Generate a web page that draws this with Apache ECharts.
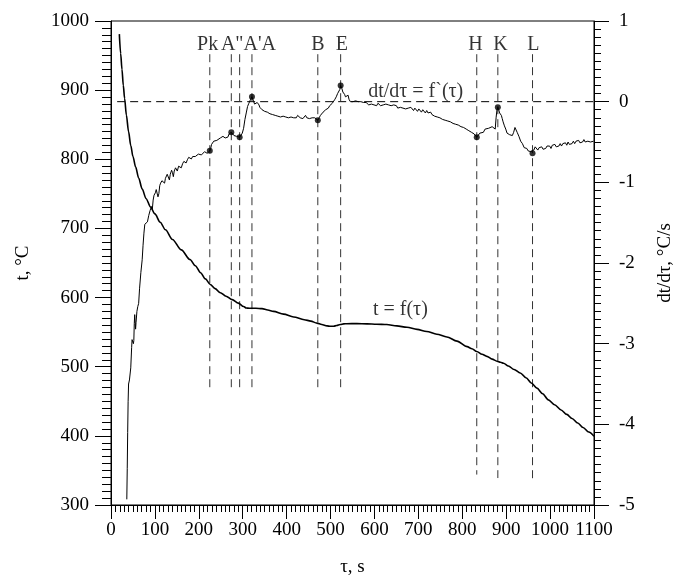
<!DOCTYPE html>
<html>
<head>
<meta charset="utf-8">
<script src="https://cdn.jsdelivr.net/npm/echarts@6/dist/echarts.min.js"></script>
<style>html,body{margin:0;padding:0;background:#fff}#c{width:673px;height:579px}</style>
</head>
<body>
<div id="c"></div>
<script>
// Temperature curve t = f(tau)  [tau s, t °C]
const tempCurve = [[19,981],[22,953],[25,930],[28,907],[31,888],[35,864],[40,840],[45,820],[50,804],[56,789],[63,773],[71,757],[80,743],[90,731],[100,721],[112,709],[124,698],[140,684],[160,669],[180,655],[192,646],[204,636],[215,627],[226,619],[237,613],[249,607],[262,602],[276,597],[290,592],[302,587],[308,585],[315,584.5],[330,584.5],[344,584],[357,582],[370,580],[393,576],[416,572],[440,568],[455,566],[469,563],[480,561],[492,559],[500,558.5],[507,558.6],[514,559.5],[522,561],[530,562],[537,562.2],[560,562.3],[583,562],[605,561.5],[628,561],[651,559],[674,557],[697,554],[719,551],[742,547],[765,543],[788,537],[811,529],[822,526],[833,522],[845,518],[856,515],[868,511],[879,508],[887,506.5],[894,505],[905,501],[918,496],[932,491],[945,484],[958,476],[970,469],[983,461],[996,452],[1010,445],[1025,437.5],[1038,431],[1050,425],[1063,418.5],[1075,412],[1088,405.5],[1100,399.5]];

// Derivative curve dt/dtau = f'(tau)  [tau s, °C/s]
const rateCurve = [[36,-4.93],[37,-4.55],[38,-4.1],[39,-3.72],[40,-3.5],[42,-3.45],[44,-3.45],[45,-3.3],[47,-3.05],[48,-2.95],[50,-2.93],[51,-3.0],[52,-2.96],[53,-2.75],[54,-2.64],[55,-2.66],[56,-2.82],[57,-2.74],[59,-2.6],[61,-2.54],[63,-2.5],[65,-2.32],[68,-2.12],[71,-1.96],[73,-1.78],[75,-1.63],[77,-1.52],[79,-1.5],[81,-1.54],[83,-1.49],[86,-1.41],[89,-1.35],[92,-1.3],[94,-1.34],[96,-1.22],[98,-1.16],[101,-1.13],[103,-1.09],[105,-1.07],[107,-1.18],[109,-1.14],[111,-1.04],[113,-1.01],[116,-0.98],[118,-0.96],[120,-0.99],[122,-1.01],[124,-0.95],[126,-0.93],[128,-0.9],[130,-0.91],[133,-0.97],[135,-0.9],[138,-0.85],[140,-0.88],[142,-0.93],[144,-0.86],[147,-0.82],[149,-0.84],[151,-0.86],[154,-0.8],[156,-0.78],[158,-0.8],[160,-0.82],[163,-0.77],[166,-0.74],[168,-0.75],[171,-0.76],[174,-0.72],[177,-0.69],[180,-0.7],[183,-0.71],[186,-0.68],[189,-0.66],[192,-0.68],[196,-0.68],[199,-0.65],[202,-0.64],[206,-0.66],[210,-0.65],[213,-0.62],[216,-0.62],[219,-0.64],[222,-0.62],[225,-0.61],
[227,-0.58],[229,-0.53],[231,-0.54],[234,-0.49],[238,-0.47],[241,-0.48],[245,-0.46],[249,-0.45],[252,-0.46],[255,-0.43],[257,-0.42],[260,-0.45],[263,-0.43],[266,-0.44],[269,-0.4],[272,-0.41],[274,-0.38],[277,-0.39],[280,-0.42],[283,-0.41],[286,-0.43],[290,-0.42],[293,-0.44],[296,-0.42],[299,-0.39],[302,-0.33],[305,-0.22],[308,-0.14],[311,-0.06],[314,-0.02],[316,-0.01],[318,0.03],[321,0.06],[323,0.03],[325,0.0],[327,-0.03],[329,-0.05],[331,-0.03],[333,-0.01],[335,0.0],[337,-0.04],[339,-0.07],[341,-0.08],[344,-0.1],[347,-0.09],[350,-0.12],[353,-0.14],[356,-0.13],[359,-0.12],[362,-0.15],[365,-0.13],[368,-0.16],[371,-0.15],[374,-0.17],[377,-0.16],[380,-0.18],[383,-0.16],[386,-0.19],[389,-0.17],[392,-0.18],[395,-0.16],[398,-0.19],[401,-0.17],[404,-0.2],[407,-0.18],[410,-0.19],[413,-0.17],[416,-0.2],[419,-0.18],[422,-0.2],[425,-0.17],[428,-0.19],[431,-0.2],[434,-0.18],[437,-0.21],[440,-0.19],[443,-0.17],[446,-0.2],[449,-0.18],[452,-0.21],[455,-0.19],[458,-0.2],[461,-0.22],[464,-0.2],[467,-0.22],[471,-0.23],
[474,-0.2],[477,-0.17],[480,-0.15],[483,-0.13],[486,-0.14],[489,-0.1],[492,-0.09],[495,-0.08],[498,-0.05],[501,-0.06],[504,-0.02],[507,0.0],[510,0.03],[513,0.06],[516,0.1],[519,0.12],[521,0.15],[523,0.2],[526,0.16],[528,0.12],[530,0.13],[532,0.09],[534,0.06],[536,0.07],[538,0.05],[540,0.08],[542,0.03],[545,0.0],[548,0.02],[551,0.0],[554,-0.01],[557,0.01],[560,-0.01],[563,0.0],[566,-0.02],[569,0.0],[572,-0.02],[575,-0.01],[578,-0.03],[581,-0.01],[584,-0.02],[587,-0.04],[590,-0.02],[593,-0.03],[596,-0.02],[599,-0.04],[602,-0.03],[605,-0.05],[608,-0.02],[611,-0.03],[614,-0.05],[617,-0.03],[620,-0.04],[623,-0.06],[626,-0.03],[629,-0.05],[632,-0.04],[635,-0.06],[638,-0.05],[641,-0.07],[644,-0.04],[647,-0.06],[650,-0.05],[653,-0.08],[656,-0.06],[659,-0.07],[662,-0.05],[665,-0.08],[668,-0.06],[671,-0.09],[674,-0.07],[677,-0.08],[680,-0.1],[683,-0.07],[686,-0.09],[689,-0.11],[692,-0.08],[695,-0.1],[698,-0.12],[701,-0.09],[704,-0.11],[707,-0.13],[710,-0.1],[713,-0.12],[716,-0.14],[719,-0.11],[722,-0.14],[725,-0.15],[728,-0.13],[731,-0.16],[734,-0.15],[737,-0.18],[740,-0.16],[743,-0.19],[746,-0.17],[749,-0.2],[752,-0.19],[755,-0.22],[758,-0.2],[761,-0.23],[764,-0.21],[767,-0.24],[770,-0.23],[773,-0.25],[776,-0.24],[779,-0.27],[782,-0.25],[785,-0.28],[788,-0.26],[791,-0.29],[794,-0.28],[797,-0.31],[800,-0.29],[803,-0.32],[806,-0.31],[809,-0.34],[812,-0.32],[815,-0.36],[818,-0.34],[821,-0.38],[824,-0.37],[827,-0.4],[830,-0.41],[833,-0.44],
[836,-0.42],[840,-0.39],[844,-0.37],[848,-0.38],[852,-0.34],[856,-0.35],[860,-0.33],[864,-0.34],[868,-0.31],[872,-0.33],[875,-0.34],[877,-0.2],[879,-0.1],[881,-0.07],[883,-0.1],[885,-0.14],[887,-0.14],[889,-0.17],[891,-0.21],[893,-0.25],[896,-0.3],[899,-0.34],[902,-0.39],[905,-0.4],[908,-0.41],[911,-0.41],[914,-0.42],[917,-0.38],[920,-0.32],[922,-0.33],[925,-0.38],[929,-0.43],[933,-0.49],[937,-0.52],[941,-0.57],[944,-0.59],[947,-0.58],[950,-0.61],[953,-0.59],[956,-0.62],[958,-0.61],[960,-0.64],[963,-0.6],[966,-0.56],[969,-0.58],[972,-0.6],[975,-0.57],[978,-0.59],[981,-0.56],[984,-0.59],[987,-0.57],[990,-0.58],[993,-0.55],[996,-0.57],[999,-0.55],[1002,-0.58],[1005,-0.54],[1008,-0.56],[1011,-0.53],[1014,-0.56],[1017,-0.54],[1020,-0.55],[1023,-0.52],[1026,-0.55],[1029,-0.52],[1032,-0.54],[1035,-0.51],[1038,-0.54],[1041,-0.5],[1044,-0.53],[1047,-0.51],[1050,-0.52],[1053,-0.49],[1056,-0.52],[1059,-0.49],[1062,-0.51],[1065,-0.48],[1068,-0.51],[1071,-0.49],[1074,-0.5],[1077,-0.47],[1080,-0.5],[1083,-0.48],[1086,-0.49],[1089,-0.47],[1092,-0.5],[1095,-0.48],[1099,-0.49]];

// Characteristic points
const eventNames = ['Pk','A"',"A'",'A','B','E','H','K','L'];
const eventTau = [225,274,293,321,471,523,833,881,960];
const eventRate = [-0.61,-0.38,-0.44,0.06,-0.23,0.20,-0.44,-0.07,-0.64];
const eventLineTop = [952,952,952,952,952,952,952,952,952];
const eventLineBottom = [470,470,470,470,470,470,344,339,333];

// Point labels above the dashed lines
const labelTexts = ['Pk','A"A\'A','B','E','H','K','L'];
const labelTau = [220,313,471,526,830,887,962];
const labelTemp = [965,965,965,965,965,965,965];

// Zero line of the derivative
const zeroLine = [[14,0],[1100,0]];

// Curve captions
const captionTexts = ['dt/dτ = f`(τ)','t = f(τ)'];
const captionTau = [694,659];
const captionVal = [0.124,582];
const captionAxis = [1,0];

// Axis ticks (major and minor steps)
const xTicks = {min:0,max:1100,interval:100,minor:10};
const tTicks = {min:300,max:1000,interval:100,minor:10};
const rTicks = {min:-5,max:1,interval:1,minor:0.1};

const FONT = 'Liberation Serif';
const txt = {fontFamily:FONT,fontSize:19,color:'#000'};
const plain = v => String(v);

const series = [];
series.push({type:'line',yAxisIndex:1,data:zeroLine,symbol:'none',silent:true,
  lineStyle:{color:'#000',width:1,type:[8,5]}});
eventTau.forEach((t,i)=>{
  series.push({type:'line',yAxisIndex:0,data:[[t,eventLineTop[i]],[t,eventLineBottom[i]]],symbol:'none',silent:true,
    lineStyle:{color:'#333',width:1,type:[8,5]}});
});
series.push({type:'line',yAxisIndex:0,data:tempCurve,symbol:'none',smooth:0.3,smoothMonotone:'x',
  lineStyle:{color:'#000',width:1.6}});
series.push({type:'line',yAxisIndex:1,data:rateCurve,symbol:'none',
  lineStyle:{color:'#000',width:1}});
series.push({type:'scatter',yAxisIndex:1,data:eventTau.map((t,i)=>({value:[t,eventRate[i]],name:eventNames[i]})),
  symbol:'circle',symbolSize:6,itemStyle:{color:'#000'},z:5});
series.push({type:'scatter',yAxisIndex:0,symbolSize:0,
  data:labelTexts.map((s,i)=>({value:[labelTau[i],labelTemp[i]],name:s})),
  label:{show:true,position:'inside',formatter:p=>p.name,fontFamily:FONT,fontSize:20,color:'#000'}});
captionTexts.forEach((s,i)=>{
  series.push({type:'scatter',yAxisIndex:captionAxis[i],symbolSize:0,
    data:[{value:[captionTau[i],captionVal[i]],name:s}],
    label:{show:true,position:'inside',formatter:p=>p.name,fontFamily:FONT,fontSize:20,color:'#000'}});
});

// helper axis that only draws the short (minor) ticks
const minorAxis = (base, pos, len) => ({type:'value',position:pos,min:base.min,max:base.max,interval:base.minor,
  axisLine:{show:false,onZero:false},axisLabel:{show:false},splitLine:{show:false},
  axisTick:{show:true,inside:false,length:len,lineStyle:{color:'#000',width:1}}});

const chart = echarts.init(document.getElementById('c'),null,{renderer:'canvas'});
chart.setOption({
  animation:false,
  backgroundColor:'#fff',
  grid:{left:111,right:79,top:21,bottom:74,show:true,borderColor:'#000',borderWidth:1,
        backgroundColor:'transparent',outerBoundsMode:'none',containLabel:false},
  xAxis:[
    {type:'value',position:'bottom',min:xTicks.min,max:xTicks.max,interval:xTicks.interval,
    name:'τ, s',nameLocation:'middle',nameGap:53,nameTextStyle:txt,
    axisLine:{show:true,onZero:false,lineStyle:{color:'#000',width:1}},
    axisTick:{show:true,inside:false,length:14,lineStyle:{color:'#000'}},
    splitLine:{show:false},
    axisLabel:Object.assign({margin:16,showMinLabel:true,showMaxLabel:true,formatter:plain},txt)},
    minorAxis(xTicks,'bottom',7)
  ],
  yAxis:[
    {type:'value',position:'left',min:tTicks.min,max:tTicks.max,interval:tTicks.interval,
     name:'t, °C',nameLocation:'middle',nameGap:78,nameRotate:90,nameTextStyle:txt,
     axisLine:{show:true,onZero:false,lineStyle:{color:'#000',width:1}},
     axisTick:{show:true,inside:false,length:16,lineStyle:{color:'#000'}},
     splitLine:{show:false},
     axisLabel:Object.assign({margin:22,showMinLabel:true,showMaxLabel:true,formatter:plain},txt)},
    {type:'value',position:'right',min:rTicks.min,max:rTicks.max,interval:rTicks.interval,
     name:'dt/dτ, °C/s',nameLocation:'middle',nameGap:62,nameRotate:90,nameTextStyle:txt,
     axisLine:{show:true,onZero:false,lineStyle:{color:'#000',width:1}},
     axisTick:{show:true,inside:false,length:15,lineStyle:{color:'#000'}},
     splitLine:{show:false},
     axisLabel:Object.assign({margin:25,showMinLabel:true,showMaxLabel:true,formatter:plain},txt)},
    minorAxis(tTicks,'left',9),
    minorAxis(rTicks,'right',7)
  ],
  series:series
});
</script>
</body>
</html>
